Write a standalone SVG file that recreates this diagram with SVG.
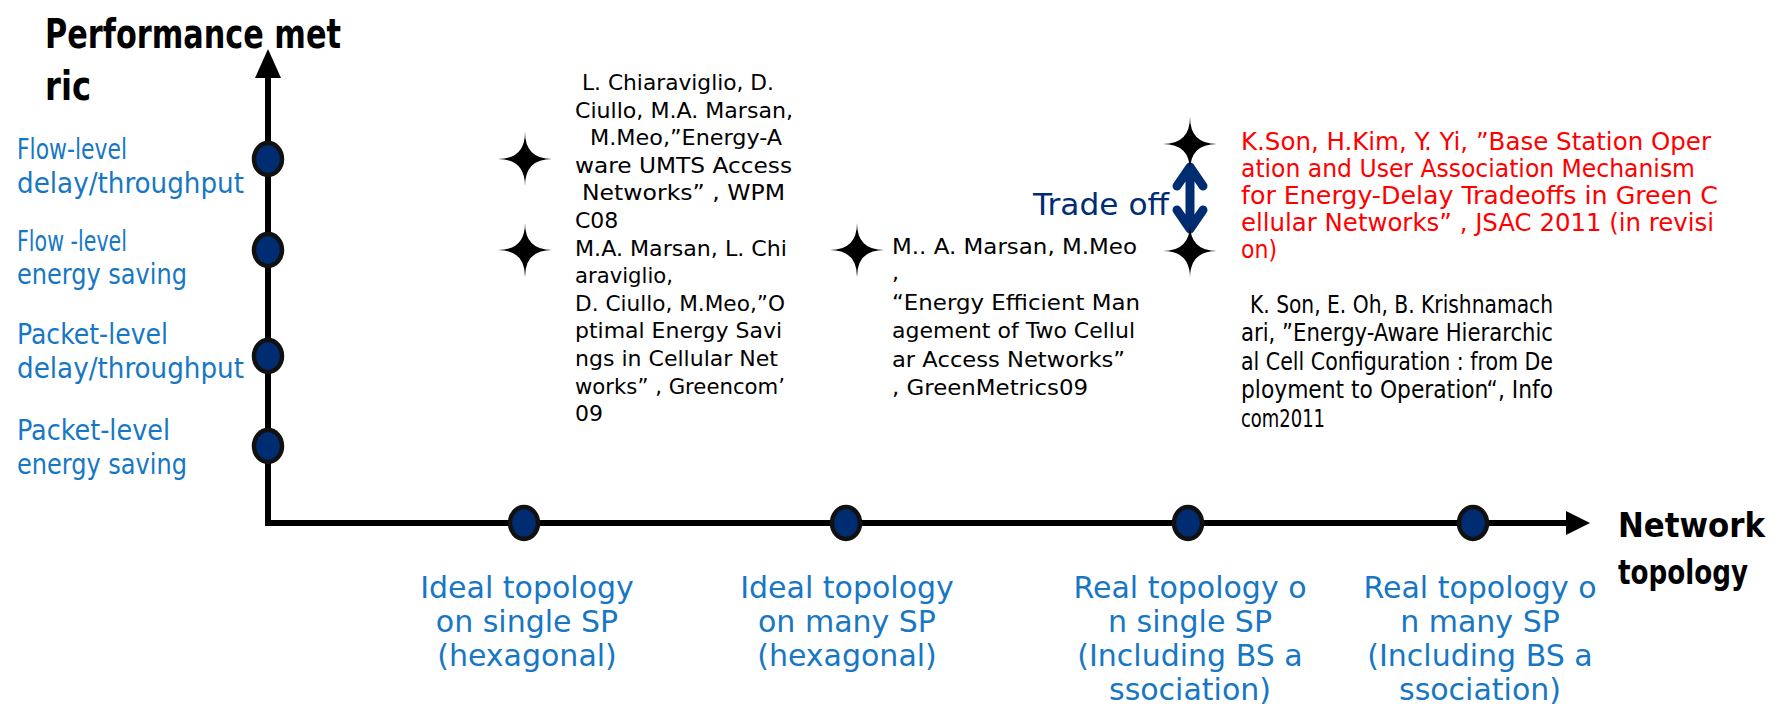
<svg xmlns="http://www.w3.org/2000/svg" width="1780" height="719" viewBox="0 0 1780 719">
<defs>
<style>
.bg{fill:#ffffff}
.axis{stroke:#000;stroke-width:6;fill:none}
.head{fill:#000}
.dot{fill:#002d72;stroke:#111;stroke-width:4.5}
.star{fill:#000}
.title{font-family:"DejaVu Sans Condensed","DejaVu Sans",sans-serif;font-stretch:condensed;font-weight:bold;font-size:40px;fill:#000}
.title2{font-family:"DejaVu Sans Condensed","DejaVu Sans",sans-serif;font-stretch:condensed;font-weight:bold;font-size:34px;fill:#000}
.ylab{font-family:"DejaVu Sans Condensed","DejaVu Sans",sans-serif;font-stretch:condensed;font-size:28px;fill:#1777c4}
.xlab{font-family:"DejaVu Sans",sans-serif;font-size:30px;fill:#1777c4;text-anchor:middle}
.cite{font-family:"DejaVu Sans",sans-serif;font-size:22px;fill:#000}
.citec{font-family:"DejaVu Sans Condensed","DejaVu Sans",sans-serif;font-stretch:condensed;font-size:24px;fill:#000}
.red{font-family:"DejaVu Sans Condensed","DejaVu Sans",sans-serif;font-stretch:condensed;font-size:24px;fill:#ff0000}
.trade{font-family:"DejaVu Sans",sans-serif;font-size:30px;fill:#002d72}
.dbl{stroke:#002d72;stroke-width:9;fill:none;stroke-linecap:round;stroke-linejoin:round}
</style>
<path id="star" d="M0,-27 Q0,0 27,0 Q0,0 0,27 Q0,0 -27,0 Q0,0 0,-27 Z"/>
</defs>
<rect class="bg" x="0" y="0" width="1780" height="719"/>

<g id="connectors">
<path class="axis" d="M268,74 L268,523 L1570,523"/>
<polygon class="head" points="268,49 255,78 281,78"/>
<polygon class="head" points="1590,523 1566,511 1566,535"/>
<path class="dbl" d="M1190,168 L1190,228 M1177,186 L1190,167 L1203,186 M1177,210 L1190,229 L1203,210"/>
</g>

<g id="axis-titles">
<text class="title" x="45" y="48" textLength="296" lengthAdjust="spacingAndGlyphs">Performance met</text>
<text class="title" x="45" y="100" textLength="46" lengthAdjust="spacingAndGlyphs">ric</text>
<text class="title2" x="1618" y="537" textLength="147" lengthAdjust="spacingAndGlyphs">Network</text>
<text class="title2" x="1618" y="584" textLength="130" lengthAdjust="spacingAndGlyphs">topology</text>
</g>

<g id="y1">
<ellipse class="dot" cx="268" cy="159" rx="14" ry="16"/>
<text class="ylab" x="17" y="159" textLength="110" lengthAdjust="spacingAndGlyphs">Flow-level</text>
<text class="ylab" x="17" y="193" textLength="227" lengthAdjust="spacingAndGlyphs">delay/throughput</text>
</g>
<g id="y2">
<ellipse class="dot" cx="268" cy="250" rx="14" ry="16"/>
<text class="ylab" x="17" y="251" textLength="110" lengthAdjust="spacingAndGlyphs">Flow -level</text>
<text class="ylab" x="17" y="284" textLength="170" lengthAdjust="spacingAndGlyphs">energy saving</text>
</g>
<g id="y3">
<ellipse class="dot" cx="268" cy="356" rx="14" ry="16"/>
<text class="ylab" x="17" y="344" textLength="151" lengthAdjust="spacingAndGlyphs">Packet-level</text>
<text class="ylab" x="17" y="378" textLength="227" lengthAdjust="spacingAndGlyphs">delay/throughput</text>
</g>
<g id="y4">
<ellipse class="dot" cx="268" cy="446" rx="14" ry="16"/>
<text class="ylab" x="17" y="440" textLength="153" lengthAdjust="spacingAndGlyphs">Packet-level</text>
<text class="ylab" x="17" y="474" textLength="170" lengthAdjust="spacingAndGlyphs">energy saving</text>
</g>

<g id="x1">
<ellipse class="dot" cx="524" cy="523" rx="14" ry="16"/>
<text class="xlab" x="527" y="598">Ideal topology</text>
<text class="xlab" x="527" y="632">on single SP</text>
<text class="xlab" x="527" y="666">(hexagonal)</text>
</g>
<g id="x2">
<ellipse class="dot" cx="846" cy="523" rx="14" ry="16"/>
<text class="xlab" x="847" y="598">Ideal topology</text>
<text class="xlab" x="847" y="632">on many SP</text>
<text class="xlab" x="847" y="666">(hexagonal)</text>
</g>
<g id="x3">
<ellipse class="dot" cx="1188" cy="523" rx="14" ry="16"/>
<text class="xlab" x="1190" y="598">Real topology o</text>
<text class="xlab" x="1190" y="632">n single SP</text>
<text class="xlab" x="1190" y="666">(Including BS a</text>
<text class="xlab" x="1190" y="700">ssociation)</text>
</g>
<g id="x4">
<ellipse class="dot" cx="1473" cy="523" rx="14" ry="16"/>
<text class="xlab" x="1480" y="598">Real topology o</text>
<text class="xlab" x="1480" y="632">n many SP</text>
<text class="xlab" x="1480" y="666">(Including BS a</text>
<text class="xlab" x="1480" y="700">ssociation)</text>
</g>

<g id="cite-umts">
<use href="#star" x="525" y="159"/>
<text class="cite" x="582" y="90" textLength="192" lengthAdjust="spacingAndGlyphs">L. Chiaraviglio, D.</text>
<text class="cite" x="575" y="118" textLength="218" lengthAdjust="spacingAndGlyphs">Ciullo, M.A. Marsan,</text>
<text class="cite" x="590" y="145" textLength="192" lengthAdjust="spacingAndGlyphs">M.Meo,”Energy-A</text>
<text class="cite" x="575" y="173" textLength="217" lengthAdjust="spacingAndGlyphs">ware UMTS Access</text>
<text class="cite" x="582" y="200" textLength="203" lengthAdjust="spacingAndGlyphs">Networks” ,  WPM</text>
<text class="cite" x="575" y="228">C08</text>
</g>
<g id="cite-greencom">
<use href="#star" x="525" y="250"/>
<text class="cite" x="575" y="256" textLength="212" lengthAdjust="spacingAndGlyphs">M.A. Marsan, L. Chi</text>
<text class="cite" x="575" y="283" textLength="98" lengthAdjust="spacingAndGlyphs">araviglio,</text>
<text class="cite" x="575" y="311" textLength="210" lengthAdjust="spacingAndGlyphs">D. Ciullo, M.Meo,”O</text>
<text class="cite" x="575" y="338" textLength="207" lengthAdjust="spacingAndGlyphs">ptimal Energy Savi</text>
<text class="cite" x="575" y="366" textLength="203" lengthAdjust="spacingAndGlyphs">ngs in Cellular Net</text>
<text class="cite" x="575" y="394" textLength="210" lengthAdjust="spacingAndGlyphs">works” , Greencom’</text>
<text class="cite" x="575" y="421">09</text>
</g>
<g id="cite-greenmetrics">
<use href="#star" x="857" y="250"/>
<text class="cite" x="892" y="254" textLength="245" lengthAdjust="spacingAndGlyphs">M.. A.  Marsan, M.Meo</text>
<text class="cite" x="892" y="280">,</text>
<text class="cite" x="892" y="310" textLength="248" lengthAdjust="spacingAndGlyphs">“Energy Efficient Man</text>
<text class="cite" x="892" y="338" textLength="243" lengthAdjust="spacingAndGlyphs">agement of Two Cellul</text>
<text class="cite" x="892" y="367" textLength="233" lengthAdjust="spacingAndGlyphs">ar Access Networks”</text>
<text class="cite" x="892" y="395" textLength="196" lengthAdjust="spacingAndGlyphs">, GreenMetrics09</text>
</g>
<g id="cite-jsac">
<use href="#star" x="1190" y="144"/>
<use href="#star" x="1190" y="251"/>
<text class="trade" x="1033" y="215" textLength="136" lengthAdjust="spacingAndGlyphs">Trade off</text>
<text class="red" x="1241" y="150" textLength="470" lengthAdjust="spacingAndGlyphs">K.Son, H.Kim, Y. Yi, ”Base Station Oper</text>
<text class="red" x="1241" y="177" textLength="454" lengthAdjust="spacingAndGlyphs">ation and User Association Mechanism</text>
<text class="red" x="1241" y="204" textLength="477" lengthAdjust="spacingAndGlyphs">for Energy-Delay Tradeoffs in Green  C</text>
<text class="red" x="1241" y="231" textLength="473" lengthAdjust="spacingAndGlyphs">ellular Networks” , JSAC 2011 (in revisi</text>
<text class="red" x="1241" y="258" textLength="36" lengthAdjust="spacingAndGlyphs">on)</text>
</g>
<g id="cite-infocom">
<text class="citec" x="1250" y="313" textLength="303" lengthAdjust="spacingAndGlyphs">K. Son, E. Oh, B. Krishnamach</text>
<text class="citec" x="1241" y="341" textLength="312" lengthAdjust="spacingAndGlyphs">ari, ”Energy-Aware Hierarchic</text>
<text class="citec" x="1241" y="370" textLength="312" lengthAdjust="spacingAndGlyphs">al Cell Configuration : from De</text>
<text class="citec" x="1241" y="398" textLength="312" lengthAdjust="spacingAndGlyphs">ployment to Operation“,  Info</text>
<text class="citec" x="1241" y="427" textLength="84" lengthAdjust="spacingAndGlyphs">com2011</text>
</g>
</svg>
